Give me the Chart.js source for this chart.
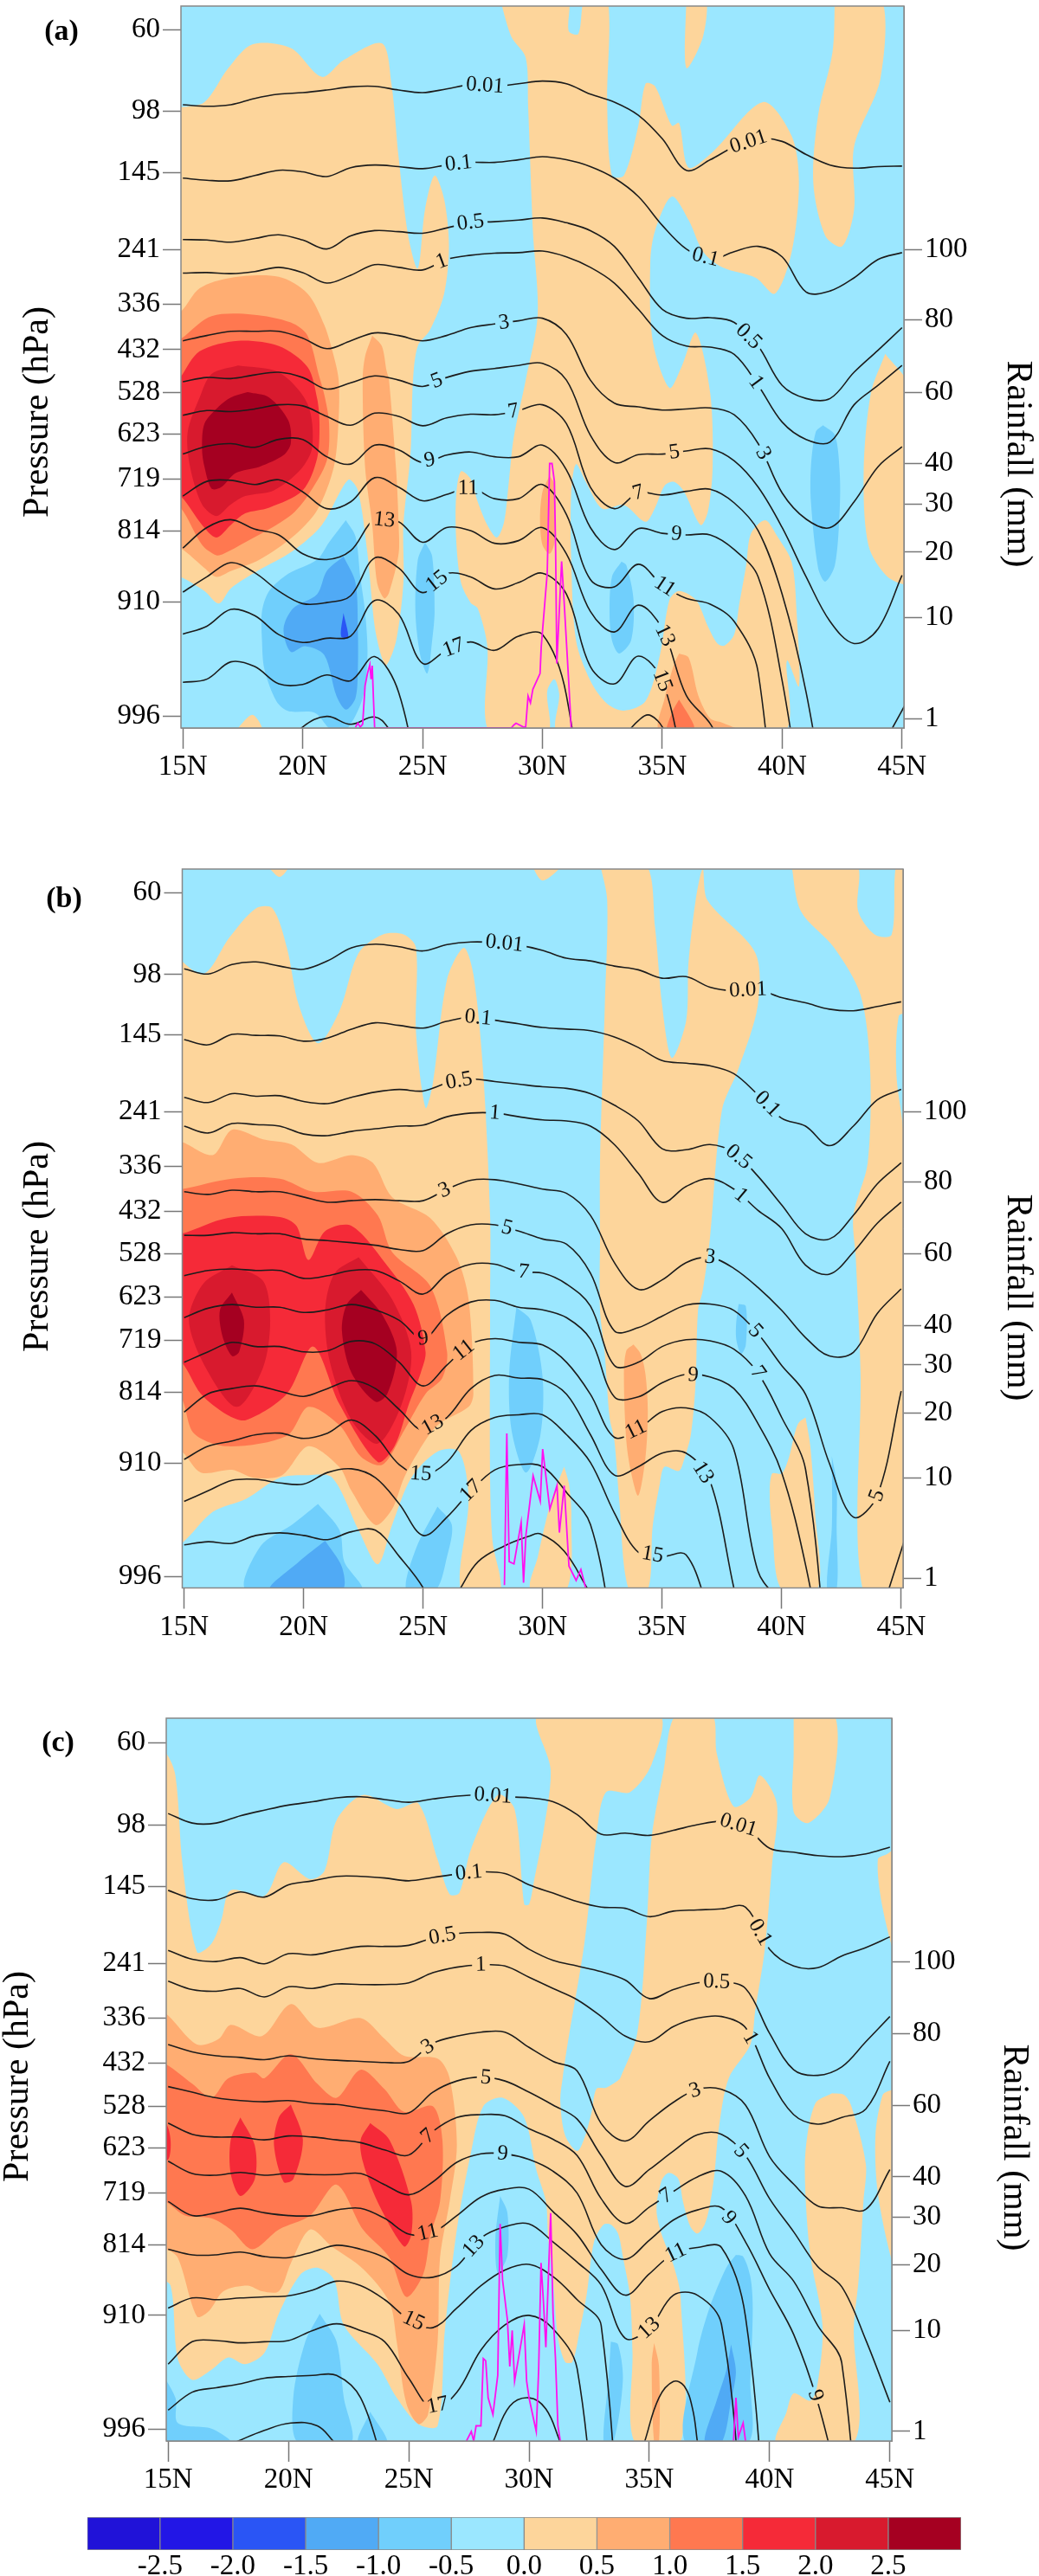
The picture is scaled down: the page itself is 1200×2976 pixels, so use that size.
<!DOCTYPE html>
<html>
<head>
<meta charset="utf-8">
<script src="https://cdn.jsdelivr.net/npm/chart.js@4/dist/chart.umd.min.js"></script>
<style>
  html, body { margin: 0; background: #fff; }
  #page { position: relative; width: 1200px; height: 2976px; overflow: hidden; }
  canvas { position: absolute; left: 0; }
</style>
</head>
<body>
<div id="page">
  <canvas id="panelA" width="1200" height="980" style="top:0"></canvas>
  <canvas id="panelB" width="1200" height="980" style="top:980px"></canvas>
  <canvas id="panelC" width="1200" height="920" style="top:1960px"></canvas>
  <canvas id="shadeBar" width="1200" height="96" style="top:2880px"></canvas>
</div>
<script>
// ---- axes ----
const lats = [15,16,17,18,19,20,21,22,23,24,25,26,27,28,29,30,31,32,33,34,35,36,37,38,39,40,41,42,43,44,45];
const latTicks = [15,20,25,30,35,40,45];
const pressureLabels = [60,98,145,241,336,432,528,623,719,814,910,996];
const rainLabels = [1,10,20,30,40,60,80,100];
const rainMm = [0,1,10,20,30,40,60,80,100];
// the vertical axis is uneven in hPa and in mm, so both are placed on a level scale
const pressureLevelsA = [133.1,117.5,105.9,91.2,80.8,72.1,64,56,47.5,37.5,24,2.3];
const pressureLevelsB = [132.5,116.9,105.4,90.8,80.4,71.8,63.7,55.5,47.2,37.3,23.8,2.2];
const pressureLevelsC = [124.5,109.8,98.9,85.2,75.4,67.4,59.7,52.3,44.3,35,22.4,2.1];
const rainLevelsA = [0,1.8,21.1,33.5,42.6,50.4,64,77.8,91.2];
const rainLevelsB = [0,1.8,21,33.4,42.5,50,63.7,77.4,90.8];
const rainLevelsC = [0,1.7,19.7,31.4,39.9,47.1,59.8,72.7,85.4];

// ---- shading bands ----
const shadeEdges = [-3,-2.5,-2,-1.5,-1,-0.5,0,0.5,1,1.5,2,2.5,3];
const shadeColors = ['#2012D8','#2216E6','#2A55F5','#50AAF5','#70CFFC','#9BE7FF','#FDD59B','#FFAD72','#FF7850','#F52A38','#D81A2E','#A50021'];
const shadeTicks = [-2.5,-2,-1.5,-1,-0.5,0,0.5,1,1.5,2,2.5];

// ---- panel a: contour levels on lats ----
const a001 = [118.8,118.5,118.8,120,120.8,121.1,121.6,122.2,122.3,121.6,121.1,121.8,122.6,122.3,122.8,123.3,122.8,120.8,119.3,116.8,112.3,106.3,108.3,110.8,112.3,111.8,109.3,107.3,106.7,107,107.1];
const a01 = [104.8,104.4,104.3,105.3,106.3,106,105.1,106.8,107.3,107,106.6,107.3,107.8,107.8,108.3,108.9,108.3,107,104.8,101.3,95.8,91.3,89.3,90.8,91.8,89.8,83.1,83.3,85.8,89.3,90.6];
const a05 = [93.1,93,92.6,93.3,94,93,91.3,93.8,94.8,94.6,94.3,95.3,96.3,96.5,96.8,97.2,96.3,94.8,91.8,85.8,79.8,78.1,78.2,77.3,72.8,65.3,62.8,62.8,67.8,72,76.3];
const a1 = [86.7,86.8,86.6,87,87.8,86.8,84.8,86.3,88.3,87.8,87.3,89.3,90.1,90.5,90.6,90.9,89.8,87.8,84.8,79.8,74.8,72.8,72.6,71.2,65.3,58.3,55,54.5,61.6,65.3,69.1];
const a3 = [73.8,74.8,75.6,75.6,75.6,74.3,72.3,73.8,75.3,74.8,73.8,74.8,76.3,77,77.6,78.1,75,66.3,61.9,61.2,60.6,60.8,61,59.7,54.2,44.8,39.8,38.2,43.1,49.8,53.6];
const a5 = [66,66.8,66.6,67.3,67.8,66.8,64.6,65.8,67.1,66.3,65.1,66.8,68,68.5,69.1,69.5,66.3,55.8,50.6,52.1,52.2,52.8,53.2,50.9,45.9,38.2,28.8,20.3,16.1,18.9,29.1];
const a7 = [59.6,60.5,60.3,60.8,61.6,61.4,59.4,57.7,60,59.4,57.6,59.1,59.8,59.7,60.5,61.6,58,45.9,41.8,44.8,44.4,45.1,45.5,42.9,37.6,25.5,6.8,-20];
const a9 = [52.2,53.7,54.2,53.5,55,55,51.7,50.3,53.9,53,50.6,52,52.6,51.7,51.7,53.9,49.2,38.2,34,38,37.1,36.8,36.8,34,28.8,9,-20];
const a11 = [44.2,47,47.2,46.4,47.3,45,41.8,43.1,47.7,45.9,43.3,44.5,45.8,43.7,43.7,46.4,40.7,28.3,26.9,31.2,27.2,24.7,23.6,20.3,10.6,-40];
const a13 = [34.3,38.2,39.7,37.9,36.8,33.2,32.1,33.8,39.8,39.3,35.4,38.2,37.6,35.2,35.7,38.2,33.2,22.2,18.3,23.4,18.9,6.2,0.8,-8];
const a15 = [25.9,28.8,31.5,29.6,26.1,23.7,23.9,25.2,32.4,30.5,25.8,29.4,28.8,26.5,27.7,29.5,25.5,11.7,8.4,13.7,9,-10];
const a17 = [17.9,19.4,22.6,21.4,17.8,16.3,17.1,17.5,24.3,21.7,12.3,14.8,16.4,14.8,17.5,17.8,6.2,-30];
const a19 = [8.7,9.3,12.6,11.7,8.4,8.3,10.1,9,13.6,6.8,-15];
const a21Lat = [19.5,20,21,22,23,23.6,24];
const a21 = [-3,0.2,2.2,0.7,2.1,-0.2,-4];
const aBumpLat = [33.6,34,34.4,34.8,35.1];
const aBump = [-0.5,1.4,2.5,1.4,-0.5];
const aCornerLat = [44.6,45.2];
const aCorner = [0,5];

// ---- panel a: shaded regions as lat, level pairs ----
const aPale1 = [[14.5,28.8],[14.9,28.8],[15.9,26.1],[16.5,23.7],[17,26.6],[18.1,29.9],[19.6,33.8],[20.8,38.7],[21.9,47.3],[22.3,45.3],[22.7,33.2],[23,19.4],[23.3,13.4],[23.5,12],[23.9,16.7],[24.2,27.7],[24.2,38.7],[24.5,52.5],[24.6,66.3],[24.8,72.8],[25.3,75.8],[25.9,82.8],[26.1,91.8],[25.9,100.8],[25.5,105.3],[25.1,98.8],[24.8,87.6],[24.4,93.8],[24,108.8],[23.7,122.8],[23.3,130.5],[21.7,127.3],[20.8,124.1],[19.5,129.6],[17.9,130.3],[16.9,125.8],[15.9,119.3],[14.9,118.3],[14.5,118.3]];
const aPale2 = [[28.2,139.5],[31,139.5],[31.1,132.8],[31.5,132.3],[31.8,139.5],[32.7,139.5],[32.7,118.8],[32.9,105.3],[33.4,105.3],[34,114.8],[34.3,122.8],[34.7,122.3],[35.4,114.8],[35.7,115.3],[36.1,106.8],[37.1,109.8],[39.2,119.3],[40.4,112.8],[40.7,103.8],[40.4,90.8],[39.7,82.8],[38.9,85.8],[37.5,87.8],[36.7,90.8],[36.1,96.8],[35.4,101.3],[34.7,94.8],[34.5,88.8],[34.6,73.8],[35.3,64.8],[35.8,68.8],[36.4,75.3],[37,63.8],[37.1,49.8],[36.9,41.2],[36.6,38.7],[35.9,45.1],[35.5,46.9],[35.1,46.2],[34.7,42],[34.3,39.3],[33.4,42.5],[32.5,41.8],[31.8,47],[31.4,50.3],[31.2,44.8],[31.2,32.1],[31.4,16.7],[32,9],[32.7,4.6],[33.4,3.3],[34.3,5.1],[34.9,13.9],[35.3,24.4],[35.7,26.1],[36.4,24.4],[36.9,19.4],[37.3,16.1],[37.6,15.7],[38,17.8],[38.2,23.3],[38.5,31],[38.7,37.1],[39.3,39.6],[39.8,36.5],[40.4,31.6],[40.6,22.2],[40.7,7.9],[40.2,12.8],[40,-1],[30.7,-1],[30.7,6.5],[30.5,9.3],[30.2,7],[30.2,-1],[27.8,-1],[27.7,15.6],[27.3,22.8],[27,23.9],[26.6,27.7],[26.4,36],[26.4,44.2],[26.6,48.9],[27,47.5],[27.3,43.1],[27.7,38.7],[28.1,36.3],[28.4,39.3],[28.6,47],[28.8,55.3],[29.3,66.3],[29.8,78.8],[29.6,94.8],[29.4,118.8],[29.3,127.8],[28.7,131.8]];
const aPale3 = [[36,139.5],[36.8,139.5],[36.7,131.8],[36,125.8]];
const aPale4 = [[42.2,139.5],[44.1,139.5],[44.1,123.8],[43,110.8],[43,98.8],[42.5,91.8],[41.8,93.8],[41.3,103.8],[41.5,116.8],[42.1,128.8]];
const aPale5 = [[44.3,71.3],[45.3,64.8],[45.3,27.8],[44.4,28.8],[43.6,34.8],[43.4,48.8],[43.7,63.8]];
const aPale6 = [[17.2,-0.5],[17.9,2.5],[18.3,-0.5]];
const aMid1 = [[14.5,34.3],[14.9,34.3],[15.9,30.5],[16.4,28.8],[17,29.9],[18.2,32.1],[19.6,36.5],[20.6,41.5],[21.3,49.8],[21.5,59.1],[21.5,66.3],[21.3,70.8],[20.9,76.8],[20.2,82.8],[19,86],[17,85.8],[15.7,83.8],[14.9,79.3],[14.5,79.3]];
const aMid2 = [[22.9,74.8],[23.3,72.8],[23.5,68],[23.6,66.3],[23.9,48.9],[24,38.7],[24,33.2],[23.6,25.8],[23.4,24.7],[23.1,27.7],[22.9,38.7],[22.6,49.8],[22.5,66.3],[22.6,70.8]];
const aMid3 = [[30.3,48.1],[30.5,46.4],[30.5,35.4],[30.3,33.2],[30,34.9],[29.9,39.8],[30,45]];
const aMid4 = [[35.7,14.2],[36.1,13.4],[36.5,6.2],[37,1.8],[37.5,1],[38.2,-0.5],[34.9,-0.5],[35.1,5.7],[35.5,12.3]];
const aCoral1 = [[14.5,42],[14.9,42],[15.8,34.9],[16.4,32.9],[16.7,33.2],[17.6,35.4],[18.9,38.7],[19.6,40.9],[20.2,44.2],[21,50.9],[21.1,58],[20.9,63.5],[20.7,66.8],[20.2,74.8],[19.5,77.3],[17.9,78.8],[16.2,78.5],[15.1,74.8],[14.5,72]];
const aCoral2 = [[35.7,5.4],[36.3,0.7],[36.3,-1],[35.2,-1],[35.4,2.9]];
const aRed = [[14.5,44],[14.9,44.2],[15.8,38.7],[16.4,36.3],[17,38.7],[17.6,40.9],[18.6,42],[20,45.3],[20.6,51.4],[20.7,58],[20.6,62.8],[20.2,68.8],[19,72.8],[17.3,73.8],[15.7,71.8],[14.9,66.8],[14.5,64]];
const aCrimson = [[17.3,69.1],[19,67.8],[20.2,61.8],[20.4,53.6],[19.9,49.2],[18.8,45.3],[17.6,44.2],[17,42.6],[16.4,40.4],[15.8,42.6],[15.3,49.8],[15.2,56.4],[15.7,63],[16.2,67.5]];
const aMaroon = [[17.7,64],[18.6,63],[19.4,58.6],[19.5,54.2],[19.2,52],[18.2,49.8],[17.2,48.6],[16.6,45.9],[16.2,45.6],[15.9,49.8],[15.8,53.1],[15.9,58],[16.5,61.3],[17,63]];
const aSky1 = [[21.8,39.6],[22.2,36.5],[22.4,28.8],[22.6,22.2],[22.7,13.9],[22.5,5.7],[21.8,-0.4],[21.2,-0.4],[20.5,2.9],[19.4,3.2],[18.9,5.1],[18.4,11.2],[18.3,16.7],[18.3,22.2],[18.6,26.1],[19.4,29.4],[20.6,32.1],[21.1,35.4]];
const aSky2 = [[25.1,35.4],[25.4,32.7],[25.5,22.2],[25.4,16.7],[25.2,10.4],[24.9,13.9],[24.7,22.2],[24.8,32]];
const aSky3 = [[33.3,31.7],[33.5,31],[33.8,24.4],[33.7,16.7],[33.2,14.2],[32.9,16.7],[32.8,22.2],[32.9,28.8]];
const aSky4 = [[41.7,57.7],[42.2,55.8],[42.4,48.7],[42.4,41.5],[42.2,31],[41.8,27.9],[41.5,30.5],[41.2,43.1],[41.2,49.8],[41.4,56.4]];
const aAzure = [[21.7,32.7],[22.2,27.7],[22.3,18.3],[22.3,11.2],[22.2,5.7],[21.8,3.5],[21.4,6.2],[20.9,13.9],[20.1,15.6],[19.5,14.5],[19.2,18.9],[19.6,22.8],[20.6,25.5],[21,29.9]];
const aBlue = [[21.7,21.9],[21.9,17.2],[21.6,17.5]];

// ---- panel a: rainfall ----
const aRainLat = [22.2,22.3,22.4,22.5,22.6,22.7,22.8,22.85,22.9,22.95,23,23.1,28.7,28.8,28.9,29.2,29.3,29.4,29.5,29.6,29.9,29.95,30.1,30.2,30.3,30.4,30.5,30.55,30.6,30.8,30.9,31.1,31.2];
const aRain = [0.1,0.5,0.1,0.4,3.9,5,5.8,4.5,5.7,2.8,0,0,0,0.3,0.5,0.1,0.1,3,2.4,3.6,5,7.4,12.3,16.8,40,40,35.6,20.3,5.9,18.6,12.7,4.1,0];

// ---- panel b: contour levels on lats ----
const b001 = [118,117,118.8,119.3,118.5,117.9,119.5,122,122.7,122.2,121.4,122.6,123.1,123,122.5,121.5,120,119.5,118.5,117.8,116.2,116.5,114.5,113.8,114,112.5,111.5,110.3,110,110.8,111.7];
const b01 = [104.5,103.5,105.5,105.3,105.2,104.2,104.8,106.5,107.7,107.2,106.7,108,108.8,108.2,107.5,106.8,106.5,106.2,105,103,100.5,100,99.5,98,94,89.5,88,84.3,88,93,95];
const b05 = [93.5,92.5,94.2,93.7,93.8,92.7,92.3,93.5,94.5,95,94.7,96.2,97,96.5,96,95.5,95.2,94.2,92,89,83.7,83.5,84.5,83,78.5,73,67.5,66.5,71,77,81];
const b1 = [88,86.7,88.5,88.3,88,86.5,86.2,87,87.5,88,88.2,89.8,90.5,90.5,89.8,89.2,89,88,84.5,79,73.5,76.5,78,76,72,68.5,61.5,59.8,64,69.5,73.5];
const b3 = [75.5,75,75.8,75.5,75.5,74.5,73.5,73.8,74,73.8,73.8,76,77.7,77.8,77,76,75.2,71,62,56.9,58.7,62,63,60.9,57.3,52.9,47.7,44.2,44.9,52.3,57];
const b5 = [67.2,67.2,67.7,67.5,67.5,66.5,66.2,65.8,65.3,64.5,64.3,67.5,69.2,69.2,68,66.5,65.5,60,49,49.6,51.8,53.9,54.1,52.9,48.5,42.4,36.9,23.7,13.5,17.6,37.5];
const b7 = [59.5,60.5,60.8,60.5,60.5,59,59.5,60.5,60.5,58.5,56,59.8,61.7,61.7,60.2,60,57.9,53.7,42.4,43,46,47.3,47.1,45.5,41,32.5,22.6,-20];
const b9 = [51.5,53.3,54,53.5,53.5,52.5,53,54,53,51,47.5,52,54.5,54.8,53.5,53,51.5,47.4,36.4,36.4,39.1,40.7,40.2,38,31.4,22,4.4,-20];
const b11 = [43,45,46.8,46,46,45,45.2,47,46.5,43,38.5,42.5,46.5,47.5,46.8,46.3,43,36.9,28.7,30.3,33.6,34.3,32.5,26.4,3.3,-3];
const b13 = [33.5,37,38,38.5,37.5,36.5,38,39.5,38,34,30,32.5,38,40.5,40,39.7,36.9,29.2,21.5,23.1,25.7,25.7,20.4,0,-20];
const b15 = [24.5,27,28,29.2,29.5,28.5,29.5,32,29,23.5,21.5,24,30,32.5,33,33,29.2,23.9,14.3,6.8,6,6.3,-5];
const b17 = [16.5,18.5,20.5,20.7,20,19.8,22,22.7,21,16,10,13.5,18.5,22.5,23.5,23.1,18.2,12.1,-10];
const b19 = [8.2,8.8,8.5,10,10.5,10,9.2,10.7,11,6,0,-10];
const b21Lat = [26.5,27.3,28.4,29.4,29.9,30.9,31.9];
const b21 = [-0.5,5,8,9.8,10.3,7,-0.3];
const bCornerLat = [44.5,45.2];
const bCorner = [0,10];

// ---- panel b: shaded regions ----
const bPale1 = [[14.5,121],[15.8,117],[16.9,124],[18,129.5],[18.7,129.5],[19.3,122],[19.8,111],[20.6,103.8],[21.5,110],[22.3,121],[23.3,124.5],[24.2,124.5],[24.7,122],[24.7,106],[25.1,91.5],[25.4,96],[26,116],[26.7,122],[27.1,117],[27.5,99],[27.8,71],[27.8,54],[27.8,21],[27.9,9],[28.2,-1],[26.6,-1],[26.9,17],[26.5,26],[25.6,26],[24.5,21],[23.7,12],[23.1,4.5],[22.3,11],[21.2,21],[20.2,21.5],[19,21],[17.6,17],[16.2,14.5],[14.9,8.5],[14.5,8.5]];
const bPale2 = [[32.4,138],[34.3,138],[34.7,126],[35,111],[35.4,101],[36,108],[36.1,119],[36.4,131],[36.7,137],[36.9,131],[38.9,121],[39,111],[38.2,99],[37.5,91],[37,66.7],[36.7,56.7],[36.5,52.9],[36.4,39.1],[36.2,29.2],[35.9,24.2],[35.7,22.3],[35.1,23.1],[34.9,19.8],[34.6,11.6],[34.4,-0.3],[33.6,-0.3],[33.2,17],[33,28.1],[32.8,32.5],[32.6,44.6],[32.4,52.9],[32.4,66.7],[32.4,81],[32.6,111],[32.7,131]];
const bPale3 = [[40.4,138],[43.1,138],[43.2,129],[43.9,124.5],[44.6,124.5],[44.8,138],[45.3,138],[45.3,110],[44.9,109],[44.8,98],[45.1,86],[45.3,-0.5],[43.4,-0.5],[43.3,41],[43.1,63],[43,71],[43.6,81],[43.7,99],[43.3,113],[42.2,122],[40.8,129]];
const bPale4 = [[18.4,138],[19.4,138],[19,135.5]];
const bPale5 = [[41,32.5],[41.2,27],[41.4,14.3],[41.5,-0.3],[40,-0.3],[39.6,11.6],[39.5,17.6],[39.6,21.8],[40,21.8],[40.3,24.8],[40.5,28.6],[40.7,31.4]];
const bPale6 = [[30.9,23.1],[31.1,19.8],[31.2,13.8],[31,-0.3],[29.5,-0.3],[29.8,6],[30.2,14],[30.5,18.5]];
const bPale7 = [[29.5,138],[30,134.8],[30.8,138]];
const bMid1 = [[14.5,85],[14.9,85],[16.2,82.5],[17,87.3],[18.3,85.5],[19.5,84.5],[20.6,81],[22,82.5],[22.9,81],[23.7,74.5],[25.3,70.5],[26.4,63],[26.9,55],[27.1,37],[26.9,34.5],[25.6,31],[24.8,26],[24.2,21],[23.7,15],[23,12],[22,18.5],[21.5,23],[20.2,27],[19.1,21.5],[17.9,21],[17,22.5],[15.7,22],[14.9,26],[14.5,26]];
const bMid2 = [[33.8,46.4],[34.1,44.6],[34.3,40.8],[34.4,33.6],[34.3,24.8],[34,17.6],[33.7,22],[33.5,28.1],[33.4,40.2],[33.5,45.2]];
const bCoral = [[14.5,76],[14.9,76],[17,78],[19,78],[20.4,75.5],[22,75.5],[23.1,71],[23.7,64],[25.3,57.5],[26,45],[25.8,40],[25.1,37],[24.2,30],[23.3,23.5],[22.4,25],[21.5,31],[20.2,34.5],[19.3,29],[16.8,27],[15.4,29.5],[14.9,36],[14.5,36]];
const bRed = [[14.5,67.5],[14.9,67.5],[16.8,70.5],[19,70.7],[19.7,69],[20.2,62.5],[20.9,68],[22,69],[23.4,62],[24.6,54],[25.1,45],[24.9,41],[24.4,35],[23.8,27],[23.1,24],[21.5,35],[20.4,46],[19.3,37],[17.6,32],[16.8,33],[15.7,37],[14.9,43],[14.5,43]];
const bCrimson1 = [[17,61.5],[18.3,58.5],[18.6,51],[18.3,42],[17.2,34.5],[15.9,42],[15.2,51],[15.8,58]];
const bCrimson2 = [[22.3,63],[23.7,55],[24.5,45],[24.1,35],[23.1,27.5],[22,32],[21.1,43],[20.9,53],[21.3,60]];
const bMaroon1 = [[17,56.3],[17.5,51],[17.3,45],[17,44.2],[16.6,48],[16.5,53]];
const bMaroon2 = [[22.4,56.8],[23.3,52],[23.9,45],[23.5,37],[23,35.5],[22,41],[21.6,49],[21.8,54]];
const bSky1 = [[28.9,53.5],[29.5,51],[30,40],[29.9,29],[29.3,22],[28.7,30],[28.6,41]];
const bSky2 = [[38.2,54.1],[38.5,53.7],[38.5,46.3],[38.3,44.6],[38.1,47.4],[38.1,50.7]];
const bSky3 = [[42.1,25.1],[42.3,19.8],[42.3,11.6],[42.3,-0.3],[41.9,-0.3],[42.1,11.6]];
const bSky4 = [[20.6,16],[21.5,11],[21.7,5],[22.4,-0.3],[17.6,-0.3],[18.2,8],[19.5,12]];
const bSky5 = [[25.6,15.5],[26.2,12],[26,6],[25.5,-0.5],[24.3,-0.5],[24.7,7.5]];
const bAzure = [[20.9,9],[21.6,4],[21.6,-0.3],[18.6,-0.3],[19.8,5]];

// ---- panel b: rainfall ----
const bRainLat = [28.4,28.5,28.6,28.8,29.1,29.2,29.3,29.6,29.9,30,30.3,30.6,30.7,30.9,31.1,31.4,31.6,31.8];
const bRain = [0.3,16.8,2.5,2.3,6,0.55,4.9,10.3,7.9,14.4,7.2,9.3,5.1,9.3,2.1,0.8,1.8,0];

// ---- panel c: contour levels on lats ----
const c001 = [111.9,110.2,110.2,111.5,112.5,113.4,114,114.7,114.9,114.4,113.9,114.5,115,115.2,114.9,114.7,114,111.7,108.2,108.4,108,108.9,109.9,110.5,109.5,105.7,105,104.4,104.2,104.7,105.9];
const c01 = [98.2,96.7,96.5,97.9,97,99.2,99.9,100.7,100.7,100.4,99.9,100.5,101.1,101.5,101.2,99.2,97.7,96.2,95.2,95,93.5,94.5,94.7,94.9,95.2,87.7,84.7,84.4,86.5,88,89.9];
const c05 = [87.5,85.9,85.5,86.2,85.1,86.9,86.7,87.5,88.2,88.2,88.4,89.7,90.5,90.7,90.4,87.7,85.7,84.7,83.7,82.2,78.9,80.5,81.7,81.9,80.7,72.7,66.2,65.2,66.7,71.2,75.7];
const c1 = [82,80.5,80.2,80.7,79.2,81,80.7,81.5,81.4,81.4,81.7,83.5,84.5,84.9,84.7,82.7,80.7,78.7,75.7,72.2,71.2,73.9,75.4,75.7,73.7,64.7,58.2,56.5,57.7,59.2,67.7];
const c3 = [70.7,69.4,68.7,68.4,68,68.7,68.2,67.9,67.7,67.5,67.7,70.9,72.2,72.9,72.9,70.2,67.7,66,56.6,53.5,57.1,60.4,62.7,62.7,59.9,50.7,45.8,41.9,41.6,41.3,48.4];
const c5 = [63.2,62.2,61.2,60.7,60.5,60.7,60.2,60,59.4,58.9,58.5,62.2,64.2,64.9,64.2,62.2,59.9,57.4,50.9,45.4,48.4,51.7,54.6,54.7,50.9,43.2,37.3,31.1,27.5,18,6.9];
const c7 = [56.7,54.7,54.2,54.2,53.7,54.4,54.2,53.7,53.2,51.9,51,55.2,57.7,58.2,58,55.7,53.8,50.9,43.2,38.8,41.7,44.5,47.1,48.1,43.7,33.4,28.5,20.6,13.9,-40];
const c9 = [49.9,47.7,47.4,47.9,47.4,47.7,47.5,47.5,47.7,45.7,43.9,46.2,49.7,51.2,51.2,50.2,48.1,44.2,35,32.4,35.8,39.4,41.2,41.6,35.5,27,19,6.9,-10];
const c11 = [42.7,40.2,40.7,41.5,40.7,40.2,40.2,41.2,41.5,39.7,36.9,37.2,40.2,43.5,44.9,44.9,40.9,36.8,30.6,26,29.8,33.4,34.5,34.5,22.1,-25];
const c13 = [34.2,33.2,33.2,33.7,32.9,32.7,33.7,34.9,34.2,32.7,29.7,29.2,31.2,36.2,38.2,38.7,35.5,31.9,27.8,18.3,20.1,26,26,20.8,-20];
const c15 = [23.7,25.5,25.2,25.5,25.7,25.9,26.9,28.5,27.7,25.2,21.7,20.2,23.7,27.7,30.5,31.5,29.3,25.2,20.6,-40];
const c17 = [13.7,17.7,17.9,17.5,17.7,17.9,19.7,20.9,19.7,17.7,11.2,5.7,8.7,16.2,20.7,22.4,20,12.9,-30];
const c19 = [5.5,8.7,9.5,10.2,11.2,11.5,11.7,11.7,7.7,-5];
const c21Lat = [17.8,19,20.1,21.2,21.9];
const c21 = [-0.2,1.9,3.2,2.7,-0.2];
const cBumpLat = [28.5,29.2,30,30.7,31.3];
const cBump = [-0.2,6.2,7.7,5.7,-0.2];
const cHillLat = [34.8,35.4,36,36.45,36.8,37];
const cHill = [-0.2,7.7,10.6,9.8,5.7,-0.2];

// ---- panel c: shaded regions ----
const cPale1 = [[14.5,122.7],[14.9,122.7],[15.3,118.7],[15.6,102.7],[16.2,87.2],[16.8,88.7],[17.2,92.7],[17.6,98.2],[19,97.2],[19.8,103.2],[20.9,100.2],[21.5,101.7],[22,110.7],[23.1,115.2],[24.5,112.7],[25.4,113.7],[26.2,103.7],[26.7,97.5],[27.1,97.7],[27.6,105.7],[28.7,115.2],[29.4,112.7],[29.8,95.7],[30,95.7],[30.2,99.7],[30.6,108.7],[30.9,119.7],[30.4,129.5],[35.4,129.5],[35.1,120.7],[34.2,115.7],[33.2,115.7],[32.8,107.7],[32.3,88.7],[31.6,70.7],[31.4,64.8],[31.3,60.7],[31.5,54.5],[32,51.7],[32.3,54],[32.6,58.6],[32.8,62.8],[33.2,63],[33.7,64.3],[33.8,64.8],[34.5,72.7],[34.9,92.7],[35.1,107.7],[35.6,119.7],[36.1,129.5],[37.6,129.5],[37.8,122.7],[38.5,113.2],[39.2,114.7],[39.6,118.7],[40.3,113.7],[40.1,102.7],[39.8,87.7],[39.4,76.7],[39.2,70.7],[38.3,64.7],[37.9,56.1],[37.7,47.3],[37.5,41.7],[37.3,38.6],[37,37],[36.7,38.3],[36.4,42.7],[36.2,46.8],[35.8,47.8],[35.5,46.3],[35.3,41.2],[35.5,37],[36,31.4],[36.3,25.7],[36.3,-0.3],[34.4,-0.3],[34.3,15.9],[34.2,25.7],[33.9,32.9],[33.7,37],[33.4,38.6],[33.1,38.6],[32.7,35.5],[32.4,26.2],[32.1,19.5],[31.8,14.1],[31.5,14.1],[31.2,18.5],[31,28.8],[30.8,36],[30.7,42.7],[30.3,48.4],[29.8,57.7],[28.9,61.2],[28.1,59.7],[27.6,51.7],[27,37.7],[26.5,19.7],[26.2,2.7],[25.4,3],[24.5,7.7],[23.7,13.7],[22.3,20.7],[21.9,28.7],[21.2,30.9],[20.5,29.7],[19.6,22.7],[19,15.7],[18.2,13.7],[17.5,14.9],[16.8,12.7],[16,10.9],[15.4,14.7],[15.1,27.7],[14.5,30]];
const cPale2 = [[42.6,62],[41.9,60.2],[41.5,52],[41.5,43.2],[41.7,32.9],[42.2,20.6],[42,10.3],[41.7,7.2],[41,8.5],[40.7,5.1],[40.3,-0.3],[43.5,-0.3],[43.5,20.1],[43.7,28.8],[43.9,42.7],[44,49.4],[43.4,59.7],[43.1,61.7]];
const cPale3 = [[45.3,62.5],[45,62.5],[44.7,61.7],[44.4,54.5],[44.5,44.2],[45.1,31.9],[45.3,31.9]];
const cPale4 = [[41,129.5],[42.7,129.5],[42.5,114.7],[41.6,110.2],[41,112.2],[41,122.7]];
const cPale5 = [[45.3,106],[44.9,104.7],[44.5,103.7],[44.7,95],[45.3,86]];
const cMid1 = [[14.5,76.2],[14.9,76.2],[16.2,70.7],[17.1,71.7],[17.6,74.2],[18.9,72.2],[20.1,77.9],[21.2,73.7],[23,75.4],[24,71.7],[24.8,68.7],[26.2,68.2],[26.7,64.7],[27,52.7],[26.7,42.7],[26.3,32.7],[26.2,17.7],[25.8,4.7],[25.4,3],[24.9,6.7],[24.5,17.7],[24.2,24.7],[23.1,30.7],[21.8,34.7],[20.9,37.7],[20.1,31.7],[19.6,26.7],[18.9,26.7],[18.3,27.7],[17.3,26.7],[16.7,23.2],[16.2,22.2],[15.4,32.7],[14.9,34.2],[14.5,34]];
const cMid2 = [[35.2,17.5],[35.4,13.4],[35.4,-0.3],[35.2,-0.3],[35.1,13.9]];
const cCoral = [[14.5,67.2],[14.9,67.2],[16,63.7],[16.8,61.2],[17.5,64.7],[18.6,65.7],[19,64.7],[20.1,69],[21.2,63.7],[22,61.2],[23,66.2],[24,62.7],[24.8,58.7],[26,59.7],[26.4,53.7],[26.3,42.7],[25.9,36.7],[25.6,29.7],[24.9,25.7],[24.2,32.7],[23.1,37.7],[22,45.7],[20.9,40.2],[19.6,37.7],[18.5,34.2],[17.6,37.7],[16.8,39.7],[15.7,40.2],[14.9,42.7],[14.5,42.7]];
const cRed1 = [[14.5,56.7],[14.9,56.7],[15.1,53.7],[15,50.2],[14.5,50.2]];
const cRed2 = [[18,57.7],[18.6,52.7],[18.6,46.7],[18,43.7],[17.6,47.7],[17.6,53.7]];
const cRed3 = [[20.1,60],[20.6,53.7],[20.2,46.7],[19.8,46.2],[19.4,52.7],[19.6,57.7]];
const cRed4 = [[23.4,56.7],[24.2,53.7],[25.1,42.7],[25.1,36.7],[24.8,34.7],[23.7,42.7],[23.1,49.7],[23,53.7]];
const cSky1 = [[14.5,13.7],[15.3,7.7],[15.4,3.2],[16.8,2.2],[17.6,-0.3],[14.5,-0.3]];
const cSky2 = [[21.3,22.7],[22,17.7],[22.3,7.7],[22.6,-0.3],[20.4,-0.3],[20.2,7.7],[20.7,17.7]];
const cSky3 = [[23.4,5.2],[24.1,-0.3],[22.9,-0.3]];
const cSky4 = [[28.8,43.7],[29.1,40.7],[29.1,33],[28.7,30],[28.6,36]];
const cSky5 = [[33.4,17.7],[33.7,17.2],[33.9,10.8],[33.5,-0.3],[33.1,-0.3],[33.3,10.8]];
const cSky6 = [[38.6,33.2],[38.9,32.9],[39.2,29.3],[39.3,23.7],[39.2,10.8],[39.1,-0.3],[36.5,-0.3],[37,15.9],[37.5,23.7],[38.2,30.9]];
const cAzure = [[38.4,17.2],[38.6,12.3],[38.4,7.2],[38,-0.3],[37.3,-0.3],[37.8,7.2],[38.2,12.6]];

// ---- panel c: rainfall ----
const cRainLat = [27.4,27.6,27.7,27.8,28,28.1,28.2,28.3,28.5,28.7,28.8,28.9,29.1,29.2,29.3,29.4,29.6,29.8,29.9,30,30.3,30.4,30.5,30.6,30.7,30.9,31,31.1,31.2,31.3];
const cRain = [0,1,0,1.5,1.5,7.5,7.3,4,2.5,6,28.6,17.7,11.7,6.8,10,5.5,8,10.9,5.5,4,1,6.5,20.4,14.3,8.5,31,12.6,7.5,1.5,0];
const cRain2Lat = [38.5,38.6,38.7,38.9,39];
const cRain2 = [0,4,0.4,1.75,0];

// shade index: 6 is 0 to 0.5, 5 (the plot background) is -0.5 to 0
const shade = { azure: 3, sky: 4, pale: 6, mid: 7, coral: 8, red: 9, crimson: 10, maroon: 11, blue: 2 };

function rainToLevel(mm, levels) {
    for (let i = 1; i < rainMm.length; i++) {
        if (mm <= rainMm[i]) {
            const t = (mm - rainMm[i - 1]) / (rainMm[i] - rainMm[i - 1]);
            return levels[i - 1] + t * (levels[i] - levels[i - 1]);
        }
    }
    return levels[levels.length - 1];
}

function levelAt(points, lat) {
    for (let i = 1; i < points.length; i++) {
        if (lat <= points[i].x) {
            const t = (lat - points[i - 1].x) / (points[i].x - points[i - 1].x);
            return points[i - 1].y + t * (points[i].y - points[i - 1].y);
        }
    }
    return points[points.length - 1].y;
}

function toPoints(xs, ys) {
    return ys.map((y, i) => ({ x: xs[i], y: y }));
}

// gaps in the contour lines: clip the labels out, then write them in
const contourLabels = {
    id: 'contourLabels',
    labelBoxes(chart, dataset) {
        const ctx = chart.ctx;
        const xs = chart.scales.x, ys = chart.scales.y;
        ctx.font = '25px "Liberation Serif"';
        return dataset.labelLats.map(lat => {
            const x0 = xs.getPixelForValue(lat - 0.4), x1 = xs.getPixelForValue(lat + 0.4);
            const y0 = ys.getPixelForValue(levelAt(dataset.data, lat - 0.4));
            const y1 = ys.getPixelForValue(levelAt(dataset.data, lat + 0.4));
            return {
                x: xs.getPixelForValue(lat),
                y: ys.getPixelForValue(levelAt(dataset.data, lat)),
                angle: Math.atan2(y1 - y0, x1 - x0),
                w: ctx.measureText(dataset.contour).width + 8,
                h: 16
            };
        });
    },
    beforeDatasetDraw(chart, args) {
        const dataset = chart.data.datasets[args.index];
        if (!dataset.labelLats) return;
        const ctx = chart.ctx;
        const area = chart.chartArea;
        const boxes = this.labelBoxes(chart, dataset);
        ctx.save();
        ctx.beginPath();
        ctx.rect(area.left - 2, area.top - 2, area.width + 4, area.height + 4);
        boxes.forEach(b => {
            const c = Math.cos(b.angle), s = Math.sin(b.angle);
            [[-1, -1], [1, -1], [1, 1], [-1, 1]].forEach((k, i) => {
                const dx = k[0] * b.w / 2, dy = k[1] * b.h / 2;
                const px = b.x + dx * c - dy * s, py = b.y + dx * s + dy * c;
                if (i === 0) ctx.moveTo(px, py); else ctx.lineTo(px, py);
            });
            ctx.closePath();
        });
        ctx.clip('evenodd');
    },
    afterDatasetDraw(chart, args) {
        const dataset = chart.data.datasets[args.index];
        if (!dataset.labelLats) return;
        const ctx = chart.ctx;
        ctx.restore();
        const boxes = this.labelBoxes(chart, dataset);
        boxes.forEach(b => {
            ctx.save();
            ctx.translate(b.x, b.y);
            let a = b.angle;
            if (a > Math.PI / 2) a -= Math.PI;
            if (a < -Math.PI / 2) a += Math.PI;
            ctx.rotate(a);
            ctx.font = '25px "Liberation Serif"';
            ctx.fillStyle = '#111';
            ctx.textAlign = 'center';
            ctx.textBaseline = 'middle';
            ctx.fillText(dataset.contour, 0, 0);
            ctx.restore();
        });
    }
};

// plot background, frame and the free-standing texts of a panel
const panelDecor = {
    id: 'panelDecor',
    beforeDatasetsDraw(chart) {
        const a = chart.chartArea;
        chart.ctx.fillStyle = shadeColors[5];
        chart.ctx.fillRect(a.left, a.top, a.width, a.height);
    },
    afterDraw(chart, args, opts) {
        const ctx = chart.ctx, a = chart.chartArea;
        ctx.save();
        ctx.strokeStyle = '#888';
        ctx.lineWidth = 1.5;
        ctx.strokeRect(a.left, a.top, a.width, a.height);
        ctx.fillStyle = '#000';
        ctx.textAlign = 'center';
        ctx.textBaseline = 'middle';
        ctx.font = 'bold 34px "Liberation Serif"';
        ctx.fillText(opts.letter[0], opts.letter[1], opts.letter[2]);
        ctx.font = '42px "Liberation Serif"';
        ctx.save();
        ctx.translate(opts.left[0], opts.left[1]);
        ctx.rotate(-Math.PI / 2);
        ctx.fillText('Pressure (hPa)', 0, 0);
        ctx.restore();
        ctx.translate(opts.right[0], opts.right[1]);
        ctx.rotate(Math.PI / 2);
        ctx.fillText('Rainfall (mm)', 0, 0);
        ctx.restore();
    }
};

// the axes hold the plot box where the panel says; tick labels may not push it
function pinVertical(s, width) {
    s.width = width;
    s.paddingTop = 0;
    s.paddingBottom = 0;
}

function makePanel(id, p) {
    const canvas = document.getElementById(id);
    const sets = [];
    p.regions.forEach(r => {
        sets.push({
            data: r[1].concat([r[1][0]]).map(q => ({ x: q[0], y: q[1] })),
            backgroundColor: shadeColors[r[0]],
            fill: 'shape', borderWidth: 0, pointRadius: 0, tension: 0.3, showLine: true
        });
    });
    p.contours.forEach(c => {
        const ds = {
            contour: c[0], labelLats: c[2],
            data: toPoints(lats, c[1]).filter(q => q.y !== null),
            borderColor: '#1c1c1c', borderWidth: 1.6, pointRadius: 0, tension: 0.35, showLine: true, fill: false
        };
        sets.push(ds);
    });
    p.bumps.forEach(b => {
        sets.push({
            data: toPoints(b[0], b[1]),
            borderColor: '#1c1c1c', borderWidth: 1.6, pointRadius: 0, tension: 0.4, showLine: true, fill: false
        });
    });
    p.rains.forEach(r => {
        sets.push({
            data: r[0].map((lat, i) => ({ x: lat, y: rainToLevel(r[1][i], p.rainLevels) })),
            yAxisID: 'yR',
            borderColor: '#FF10F0', borderWidth: 1.8, pointRadius: 0, tension: 0, showLine: true, fill: false
        });
    });
    // earlier datasets have to be painted first
    sets.forEach((s, i) => { s.order = sets.length - i; });

    const axisFont = { family: '"Liberation Serif"', size: 33 };
    return new Chart(canvas, {
        type: 'scatter',
        data: { datasets: sets },
        options: {
            responsive: false,
            animation: false,
            events: [],
            layout: { padding: { top: p.top, right: 0, bottom: 0, left: 0 } },
            plugins: {
                legend: { display: false },
                tooltip: { enabled: false },
                panelDecor: { letter: p.letter, left: p.leftTitle, right: p.rightTitle }
            },
            scales: {
                x: {
                    type: 'linear', min: 14.92, max: 45.08,
                    afterBuildTicks: s => { s.ticks = latTicks.map(v => ({ value: v })); },
                    afterFit: s => { s.height = canvas.height - p.bottom; },
                    grid: { drawOnChartArea: false, tickLength: 24, tickColor: '#777', tickWidth: 1.5 },
                    border: { color: '#888' },
                    ticks: { color: '#000', font: axisFont, padding: 2, maxRotation: 0, autoSkip: false, callback: v => v + 'N' }
                },
                y: {
                    type: 'linear', position: 'left', min: 0, max: p.levelTop,
                    afterBuildTicks: s => { s.ticks = p.pressureLevels.map(v => ({ value: v })); },
                    afterFit: s => pinVertical(s, p.left),
                    grid: { drawOnChartArea: false, tickLength: 21, tickColor: '#777', tickWidth: 1.5 },
                    border: { color: '#888' },
                    ticks: { color: '#000', font: axisFont, padding: 3, autoSkip: false, callback: (v, i) => pressureLabels[i] }
                },
                yR: {
                    type: 'linear', position: 'right', min: 0, max: p.levelTop,
                    afterBuildTicks: s => { s.ticks = p.rainLevels.slice(1).map(v => ({ value: v })); },
                    afterFit: s => pinVertical(s, 1200 - p.right),
                    grid: { drawOnChartArea: false, tickLength: 21, tickColor: '#777', tickWidth: 1.5 },
                    border: { color: '#888' },
                    ticks: { color: '#000', font: axisFont, padding: 3, autoSkip: false, callback: (v, i) => rainLabels[i] }
                }
            }
        },
        plugins: [panelDecor, contourLabels]
    });
}

makePanel('panelA', {
    top: 7, bottom: 841, left: 209, right: 1044, levelTop: 137.6,
    pressureLevels: pressureLevelsA, rainLevels: rainLevelsA,
    letter: ['(a)', 71, 37], leftTitle: [44, 476], rightTitle: [1175, 536],
    regions: [
        [shade.pale, aPale1], [shade.pale, aPale2], [shade.pale, aPale3], [shade.pale, aPale4], [shade.pale, aPale5], [shade.pale, aPale6],
        [shade.mid, aMid1], [shade.mid, aMid2], [shade.mid, aMid3], [shade.mid, aMid4],
        [shade.coral, aCoral1], [shade.coral, aCoral2], [shade.red, aRed], [shade.crimson, aCrimson], [shade.maroon, aMaroon],
        [shade.sky, aSky1], [shade.sky, aSky2], [shade.sky, aSky3], [shade.sky, aSky4], [shade.azure, aAzure], [shade.blue, aBlue]
    ],
    contours: [
        ['0.01', a001, [27.6, 38.6]], ['0.1', a01, [26.5, 36.8]], ['0.5', a05, [27, 38.6]], ['1', a1, [25.8, 38.9]],
        ['3', a3, [28.4, 39.2]], ['5', a5, [25.6, 35.5]], ['7', a7, [28.8, 34]], ['9', a9, [25.3, 35.6]],
        ['11', a11, [26.9, 35.1]], ['13', a13, [23.4, 35.1]], ['15', a15, [25.6, 35]], ['17', a17, [26.3]],
        ['19', a19, []]
    ],
    bumps: [[a21Lat, a21], [aBumpLat, aBump], [aCornerLat, aCorner]],
    rains: [[aRainLat, aRain]]
});

makePanel('panelB', {
    top: 24, bottom: 854.5, left: 210.5, right: 1043, levelTop: 137,
    pressureLevels: pressureLevelsB, rainLevels: rainLevelsB,
    letter: ['(b)', 74, 59], leftTitle: [44, 460], rightTitle: [1175, 519],
    regions: [
        [shade.pale, bPale1], [shade.pale, bPale2], [shade.pale, bPale3], [shade.pale, bPale4], [shade.pale, bPale5], [shade.pale, bPale6], [shade.pale, bPale7],
        [shade.mid, bMid1], [shade.mid, bMid2], [shade.coral, bCoral], [shade.red, bRed],
        [shade.crimson, bCrimson1], [shade.crimson, bCrimson2], [shade.maroon, bMaroon1], [shade.maroon, bMaroon2],
        [shade.sky, bSky1], [shade.sky, bSky2], [shade.sky, bSky3], [shade.sky, bSky4], [shade.sky, bSky5], [shade.azure, bAzure]
    ],
    contours: [
        ['0.01', b001, [28.4, 38.6]], ['0.1', b01, [27.3, 39.4]], ['0.5', b05, [26.5, 38.2]], ['1', b1, [28, 38.3]],
        ['3', b3, [25.9, 37]], ['5', b5, [28.5, 38.9, 44]], ['7', b7, [29.2, 39]], ['9', b9, [25, 36.3]],
        ['11', b11, [26.7, 33.9]], ['13', b13, [25.4, 36.7]], ['15', b15, [24.9, 34.6]], ['17', b17, [27]],
        ['19', b19, []]
    ],
    bumps: [[b21Lat, b21], [bCornerLat, bCorner]],
    rains: [[bRainLat, bRain]]
});

makePanel('panelC', {
    top: 25, bottom: 860, left: 192, right: 1030, levelTop: 128.9,
    pressureLevels: pressureLevelsC, rainLevels: rainLevelsC,
    letter: ['(c)', 67, 54], leftTitle: [21, 439], rightTitle: [1171, 521],
    regions: [
        [shade.pale, cPale1], [shade.pale, cPale2], [shade.pale, cPale3], [shade.pale, cPale4], [shade.pale, cPale5],
        [shade.mid, cMid1], [shade.mid, cMid2], [shade.coral, cCoral],
        [shade.red, cRed1], [shade.red, cRed2], [shade.red, cRed3], [shade.red, cRed4],
        [shade.sky, cSky1], [shade.sky, cSky2], [shade.sky, cSky3], [shade.sky, cSky4], [shade.sky, cSky5], [shade.sky, cSky6], [shade.azure, cAzure]
    ],
    contours: [
        ['0.01', c001, [28.5, 38.7]], ['0.1', c01, [27.5, 39.6]], ['0.5', c05, [26.4, 37.8]], ['1', c1, [28, 39.2]],
        ['3', c3, [25.8, 36.9]], ['5', c5, [28.2, 38.8]], ['7', c7, [25.8, 35.7]], ['9', c9, [28.9, 38.3, 41.9]],
        ['11', c11, [25.8, 36.1]], ['13', c13, [27.7, 35]], ['15', c15, [25.2]], ['17', c17, [26.2]],
        ['19', c19, []]
    ],
    bumps: [[c21Lat, c21], [cBumpLat, cBump], [cHillLat, cHill]],
    rains: [[cRainLat, cRain], [cRain2Lat, cRain2]]
});

// shading key: one floating bar per band
const barCanvas = document.getElementById('shadeBar');
new Chart(barCanvas, {
    type: 'bar',
    data: {
        labels: ['shading'],
        datasets: shadeColors.map((color, i) => ({
            data: [[shadeEdges[i], shadeEdges[i + 1]]],
            backgroundColor: color, borderColor: '#8a8a8a', borderWidth: 1, borderSkipped: false,
            barPercentage: 1, categoryPercentage: 1, grouped: false
        }))
    },
    options: {
        indexAxis: 'y',
        responsive: false,
        animation: false,
        events: [],
        layout: { padding: { top: 28, left: 100.7, right: 90, bottom: 0 } },
        plugins: { legend: { display: false }, tooltip: { enabled: false } },
        scales: {
            y: { display: false },
            x: {
                type: 'linear', min: -3, max: 3,
                afterBuildTicks: s => { s.ticks = shadeTicks.map(v => ({ value: v })); },
                afterFit: s => { s.height = 30; },
                grid: { display: false, drawTicks: false },
                border: { display: false },
                ticks: { color: '#000', font: { family: '"Liberation Serif"', size: 33 }, padding: 0, maxRotation: 0, autoSkip: false, callback: v => v.toFixed(1) }
            }
        }
    }
});
</script>
</body>
</html>
